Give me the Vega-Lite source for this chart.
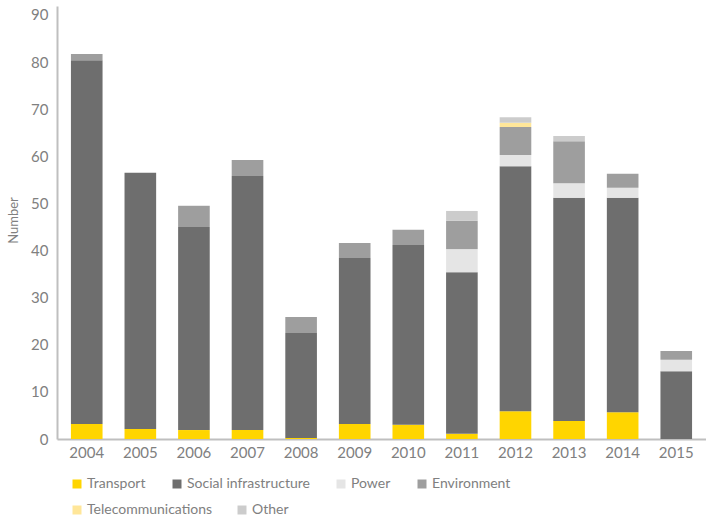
{
  "$schema": "https://vega.github.io/schema/vega-lite/v6.json",
  "width": 649,
  "height": 433,
  "autosize": {"type": "none"},
  "padding": {"left": 57, "top": 6, "right": 0, "bottom": 81},
  "background": "white",
  "config": {"view": {"stroke": null}, "font": "Lato"},
  "data": {
    "values": [
      {"year": "2004", "sector": "Transport", "o": 1, "value": 3.2},
      {"year": "2004", "sector": "Social infrastructure", "o": 2, "value": 77.2},
      {"year": "2004", "sector": "Environment", "o": 4, "value": 1.3},
      {"year": "2005", "sector": "Transport", "o": 1, "value": 2.1},
      {"year": "2005", "sector": "Social infrastructure", "o": 2, "value": 54.4},
      {"year": "2006", "sector": "Transport", "o": 1, "value": 1.9},
      {"year": "2006", "sector": "Social infrastructure", "o": 2, "value": 43.1},
      {"year": "2006", "sector": "Environment", "o": 4, "value": 4.5},
      {"year": "2007", "sector": "Transport", "o": 1, "value": 1.9},
      {"year": "2007", "sector": "Social infrastructure", "o": 2, "value": 53.9},
      {"year": "2007", "sector": "Environment", "o": 4, "value": 3.4},
      {"year": "2008", "sector": "Transport", "o": 1, "value": 0.2},
      {"year": "2008", "sector": "Social infrastructure", "o": 2, "value": 22.3},
      {"year": "2008", "sector": "Environment", "o": 4, "value": 3.4},
      {"year": "2009", "sector": "Transport", "o": 1, "value": 3.2},
      {"year": "2009", "sector": "Social infrastructure", "o": 2, "value": 35.2},
      {"year": "2009", "sector": "Environment", "o": 4, "value": 3.2},
      {"year": "2010", "sector": "Transport", "o": 1, "value": 3.0},
      {"year": "2010", "sector": "Social infrastructure", "o": 2, "value": 38.2},
      {"year": "2010", "sector": "Environment", "o": 4, "value": 3.2},
      {"year": "2011", "sector": "Transport", "o": 1, "value": 1.1},
      {"year": "2011", "sector": "Social infrastructure", "o": 2, "value": 34.3},
      {"year": "2011", "sector": "Power", "o": 3, "value": 4.9},
      {"year": "2011", "sector": "Environment", "o": 4, "value": 6.0},
      {"year": "2011", "sector": "Other", "o": 6, "value": 2.1},
      {"year": "2012", "sector": "Transport", "o": 1, "value": 5.9},
      {"year": "2012", "sector": "Social infrastructure", "o": 2, "value": 52.0},
      {"year": "2012", "sector": "Power", "o": 3, "value": 2.4},
      {"year": "2012", "sector": "Environment", "o": 4, "value": 5.9},
      {"year": "2012", "sector": "Telecommunications", "o": 5, "value": 0.9},
      {"year": "2012", "sector": "Other", "o": 6, "value": 1.2},
      {"year": "2013", "sector": "Transport", "o": 1, "value": 3.8},
      {"year": "2013", "sector": "Social infrastructure", "o": 2, "value": 47.4},
      {"year": "2013", "sector": "Power", "o": 3, "value": 3.1},
      {"year": "2013", "sector": "Environment", "o": 4, "value": 8.9},
      {"year": "2013", "sector": "Other", "o": 6, "value": 1.1},
      {"year": "2014", "sector": "Transport", "o": 1, "value": 5.7},
      {"year": "2014", "sector": "Social infrastructure", "o": 2, "value": 45.5},
      {"year": "2014", "sector": "Power", "o": 3, "value": 2.1},
      {"year": "2014", "sector": "Environment", "o": 4, "value": 3.0},
      {"year": "2015", "sector": "Social infrastructure", "o": 2, "value": 14.4},
      {"year": "2015", "sector": "Power", "o": 3, "value": 2.4},
      {"year": "2015", "sector": "Environment", "o": 4, "value": 1.9}
    ]
  },
  "encoding": {
    "x": {
      "field": "year", "type": "ordinal",
      "scale": {"paddingInner": 0.41, "paddingOuter": 0.26},
      "axis": {
        "title": null, "labelAngle": 0, "ticks": false,
        "domainColor": "#BFBFBF", "domainWidth": 2,
        "labelColor": "#808080", "labelFontSize": 15, "labelPadding": 6
      }
    },
    "y": {
      "field": "value", "type": "quantitative", "stack": "zero",
      "scale": {"domain": [0, 91.9], "nice": false},
      "axis": {
        "title": "Number", "values": [0, 10, 20, 30, 40, 50, 60, 70, 80, 90],
        "grid": false, "ticks": false,
        "domainColor": "#BFBFBF", "domainWidth": 2,
        "labelColor": "#808080", "labelFontSize": 15, "labelPadding": 9,
        "titleColor": "#808080", "titleFontSize": 13, "titleFontWeight": "normal",
        "titleX": -44, "titleY": 214, "titleBaseline": "middle", "titleAlign": "center"
      }
    },
    "order": {"field": "o", "type": "quantitative", "sort": "ascending"}
  },
  "layer": [
    {
      "mark": {"type": "bar"},
      "encoding": {
        "color": {
          "field": "sector", "type": "nominal",
          "scale": {
            "domain": ["Transport", "Social infrastructure", "Power", "Environment", "Telecommunications", "Other"],
            "range": ["#FFD500", "#6E6E6E", "#E5E5E5", "#9E9E9E", "#FFE699", "#CCCCCC"]
          },
          "legend": {
            "title": null, "orient": "none", "legendX": 13, "legendY": 471,
            "direction": "horizontal",
            "values": ["Transport", "Social infrastructure", "Power", "Environment"],
            "columnPadding": 24,
            "symbolType": "square", "symbolSize": 81, "symbolStrokeWidth": 0,
            "labelColor": "#808080", "labelFontSize": 14, "labelOffset": 3
          }
        }
      }
    },
    {
      "transform": [{"filter": {"field": "sector", "oneOf": ["Telecommunications", "Other"]}}],
      "mark": {"type": "bar", "opacity": 0},
      "encoding": {
        "fill": {
          "field": "sector", "type": "nominal",
          "scale": {
            "domain": ["Telecommunications", "Other"],
            "range": ["#FFE699", "#CCCCCC"]
          },
          "legend": {
            "title": null, "orient": "none", "legendX": 13, "legendY": 497,
            "direction": "horizontal",
            "columnPadding": 22,
            "symbolType": "square", "symbolSize": 81, "symbolStrokeWidth": 0, "symbolOpacity": 1,
            "labelColor": "#808080", "labelFontSize": 14, "labelOffset": 3
          }
        }
      }
    }
  ]
}
